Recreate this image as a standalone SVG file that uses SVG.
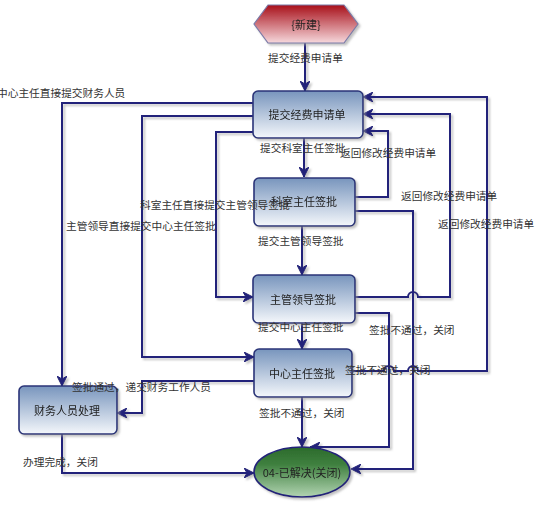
<svg xmlns="http://www.w3.org/2000/svg" width="536" height="507" viewBox="0 0 536 507">
<style>
.lbl{font-family:"Noto Sans CJK SC","Liberation Sans",sans-serif;font-size:10.7px;fill:#333}
.ntx{font-family:"Noto Sans CJK SC","Liberation Sans",sans-serif;font-size:11px;fill:#222;text-anchor:middle;dominant-baseline:central}
.box{fill:url(#gBlue);stroke:#2a3478;stroke-width:1.6}
.ln{fill:none;stroke:#23237a;stroke-width:2}
</style>
<defs>
<linearGradient id="gBlue" x1="0" y1="0" x2="0" y2="1">
<stop offset="0" stop-color="#7895bd"/>
<stop offset="1" stop-color="#f4f7fb"/>
</linearGradient>
<linearGradient id="gRed" x1="0" y1="0" x2="0" y2="1">
<stop offset="0" stop-color="#a8101a"/>
<stop offset="1" stop-color="#f6d8dc"/>
</linearGradient>
<linearGradient id="gGreen" x1="0" y1="0" x2="0" y2="1">
<stop offset="0" stop-color="#2b6a2b"/>
<stop offset="0.35" stop-color="#3f803f"/>
<stop offset="1" stop-color="#b2d4b2"/>
</linearGradient>
<filter id="sh" x="-10%" y="-10%" width="130%" height="130%">
<feDropShadow dx="2" dy="2" stdDeviation="1" flood-color="#999" flood-opacity="0.6"/>
</filter>
<marker id="arr" markerUnits="userSpaceOnUse" markerWidth="12" markerHeight="10" refX="10" refY="5" orient="auto">
<path d="M0,0 L10,5 L0,10 L3,5 Z" fill="#23237a" stroke="#23237a" stroke-width="1"/>
</marker>
</defs>

<g id="connectors" filter="url(#sh)">
<path class="ln" d="M305,43 V91" marker-end="url(#arr)"/>
<path class="ln" d="M304,138 V177" marker-end="url(#arr)"/>
<path class="ln" d="M302,226 V275" marker-end="url(#arr)"/>
<path class="ln" d="M302,323 V349" marker-end="url(#arr)"/>
<path class="ln" d="M302,397 V447" marker-end="url(#arr)"/>
<path class="ln" d="M253,103 H62 V386" marker-end="url(#arr)"/>
<path class="ln" d="M253,116 H142 V357 H254" marker-end="url(#arr)"/>
<path class="ln" d="M253,132 H216 V297 H253" marker-end="url(#arr)"/>
<path class="ln" d="M355,197 H388 V131 H363" marker-end="url(#arr)"/>
<path class="ln" d="M355,297 H408 a5,5 0 0 1 10,0 H450 V114 H363" marker-end="url(#arr)"/>
<path class="ln" d="M352,371 H384 a5,5 0 0 1 10,0 H408 a5,5 0 0 1 10,0 H487 V97 H363" marker-end="url(#arr)"/>
<path class="ln" d="M355,211 H413 V469 H351" marker-end="url(#arr)"/>
<path class="ln" d="M355,313 H389 V447 H310" marker-end="url(#arr)"/>
<path class="ln" d="M254,381 H142 V413 H117" marker-end="url(#arr)"/>
<path class="ln" d="M62,434 V473 H254" marker-end="url(#arr)"/>
</g>

<g id="n-new" filter="url(#sh)">
<polygon points="268,5 344,5 358,24 344,43 268,43 254,24" fill="url(#gRed)" stroke="#7a7aa8" stroke-width="1.2"/>
<text class="ntx" x="306" y="24">{新建}</text>
</g>
<g id="n-submit" filter="url(#sh)">
<rect class="box" x="253" y="91" width="110" height="47" rx="5"/>
<text class="ntx" x="307" y="114">提交经费申请单</text>
</g>
<g id="n-section" filter="url(#sh)">
<rect class="box" x="254" y="178" width="101" height="48" rx="5"/>
<text class="ntx" x="304" y="201">科室主任签批</text>
</g>
<g id="n-leader" filter="url(#sh)">
<rect class="box" x="253" y="275" width="102" height="48" rx="5"/>
<text class="ntx" x="303" y="299">主管领导签批</text>
</g>
<g id="n-center" filter="url(#sh)">
<rect class="box" x="254" y="349" width="98" height="48" rx="5"/>
<text class="ntx" x="302" y="373">中心主任签批</text>
</g>
<g id="n-finance" filter="url(#sh)">
<rect class="box" x="19" y="386" width="98" height="48" rx="5"/>
<text class="ntx" x="67" y="410">财务人员处理</text>
</g>
<g id="n-closed" filter="url(#sh)">
<ellipse cx="302" cy="472" rx="48" ry="25" fill="url(#gGreen)" stroke="#23237a" stroke-width="1.6"/>
<text class="ntx" x="302" y="472">04-已解决(关闭)</text>
</g>

<g id="labels">
<text class="lbl" x="268" y="62">提交经费申请单</text>
<text class="lbl" x="-3" y="97">中心主任直接提交财务人员</text>
<text class="lbl" x="260" y="152">提交科室主任签批</text>
<text class="lbl" x="340" y="157">返回修改经费申请单</text>
<text class="lbl" x="401" y="200">返回修改经费申请单</text>
<text class="lbl" x="438" y="228">返回修改经费申请单</text>
<text class="lbl" x="140" y="209">科室主任直接提交主管领导签批</text>
<text class="lbl" x="66" y="230">主管领导直接提交中心主任签批</text>
<text class="lbl" x="258" y="245">提交主管领导签批</text>
<text class="lbl" x="258" y="331">提交中心主任签批</text>
<text class="lbl" x="369" y="334">签批不通过，关闭</text>
<text class="lbl" x="345" y="374">签批不通过，关闭</text>
<text class="lbl" x="72" y="391">签批通过，递交财务工作人员</text>
<text class="lbl" x="259" y="417">签批不通过，关闭</text>
<text class="lbl" x="23" y="466">办理完成，关闭</text>
</g>
</svg>
